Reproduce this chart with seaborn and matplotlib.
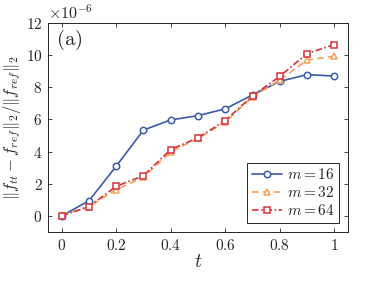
import matplotlib
matplotlib.use("Agg")
import matplotlib.pyplot as plt
import seaborn as sns
import pandas as pd
from matplotlib.ticker import FuncFormatter, MultipleLocator

t = [0, 0.1, 0.2, 0.3, 0.4, 0.5, 0.6, 0.7, 0.8, 0.9, 1.0]
m16 = [0.0, 0.94, 3.09, 5.34, 5.97, 6.24, 6.66, 7.53, 8.37, 8.79, 8.70]
m32 = [0.05, 0.58, 1.63, 2.40, 3.99, 4.82, 5.84, 7.41, 8.45, 9.70, 9.93]
m64 = [0.0, 0.58, 1.84, 2.50, 4.13, 4.86, 5.93, 7.47, 8.68, 10.10, 10.66]
labels = [r"$m=16$", r"$m=32$", r"$m=64$"]

sns.set_theme(style="ticks")
plt.rcParams["font.family"] = ["DejaVu Serif"]
plt.rcParams["mathtext.fontset"] = "cm"

fig = plt.figure(figsize=(3.74, 2.83), dpi=100)
ax = fig.add_axes([48/374, 1-232/283, 300/374, 209/283])

series = [
    (m16, "#3b5ba8", "-", "o", 4.6),
    (m32, "#f5a05a", (0, (4, 2.5)), "^", 5.0),
    (m64, "#d8323a", (0, (4, 1.5, 1, 1.5)), "s", 4.0),
]
for (vals, col, ls, mk, ms), lab in zip(series, labels):
    df = pd.DataFrame({"t": t, "v": vals})
    sns.lineplot(data=df, x="t", y="v", ax=ax, color=col, linestyle=ls,
                 marker=mk, markersize=ms, markerfacecolor="white",
                 markeredgecolor=col, markeredgewidth=1.1, linewidth=1.2,
                 label=lab)

ax.set_xlim(-0.05, 1.05)
ax.set_ylim(-1, 12)
ax.xaxis.set_major_locator(MultipleLocator(0.2))
ax.yaxis.set_major_locator(MultipleLocator(2))
fmt = FuncFormatter(lambda v, p: "$%s$" % ("%g" % round(v, 2)))
ax.xaxis.set_major_formatter(fmt)
ax.yaxis.set_major_formatter(fmt)
ax.tick_params(direction="in", top=True, right=True, length=3, width=0.6,
               labelsize=11, colors="#262626", pad=4)
for s in ax.spines.values():
    s.set_visible(True)
    s.set_linewidth(0.7)
    s.set_color("#262626")

ax.set_xlabel(r"$t$", fontsize=14, labelpad=0)
ax.set_ylabel(r"$\|f_{tt}-f_{ref}\|_2/\|f_{ref}\|_2$", fontsize=12, labelpad=2)
ax.text(0.0, 1.0, r"$\times10^{-6}$", transform=ax.transAxes, fontsize=11.5,
        ha="left", va="bottom")
ax.text(0.025, 0.975, r"$\mathrm{(a)}$", transform=ax.transAxes, fontsize=15,
        ha="left", va="top")

leg = ax.legend(loc="lower right", fontsize=11, frameon=True, fancybox=False,
                edgecolor="#262626", framealpha=1, borderpad=0.3,
                handlelength=2.0, handletextpad=0.3, labelspacing=0.2,
                borderaxespad=0.6)
leg.get_frame().set_linewidth(0.7)

fig.savefig("out.png", dpi=100)
